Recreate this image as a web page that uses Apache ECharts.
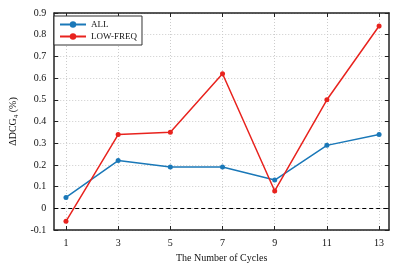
<!DOCTYPE html>
<html><head><meta charset="utf-8">
<script src="https://cdn.jsdelivr.net/npm/echarts@6/dist/echarts.min.js"></script>
<style>html,body{margin:0;padding:0;background:#fff}#c{width:407px;height:271px}</style>
</head><body><div id="c"></div>
<script>
const cycles = [1, 3, 5, 7, 9, 11, 13];
const allVals = [0.05, 0.22, 0.19, 0.19, 0.13, 0.29, 0.34];
const lowFreqVals = [-0.06, 0.34, 0.35, 0.62, 0.08, 0.50, 0.84];
const yTicks = [-0.1, 0, 0.1, 0.2, 0.3, 0.4, 0.5, 0.6, 0.7, 0.8, 0.9];
const seriesNames = ['ALL', 'LOW-FREQ'];

const font = 'Liberation Serif';
const chart = echarts.init(document.getElementById('c'), null, {renderer: 'canvas'});
const pairs = v => cycles.map((c, i) => [c, v[i]]);
const frame = {lineStyle: {color: '#222', width: 1.5}};
chart.setOption({
  animation: false,
  backgroundColor: '#fff',
  grid: {left: 49, right: 18, top: 13, bottom: 41, containLabel: false},
  legend: {
    left: 54, top: 16, orient: 'vertical', itemGap: 3, itemWidth: 26, itemHeight: 8,
    padding: [4, 5, 4, 5], borderColor: '#333', borderWidth: 1, backgroundColor: '#fff',
    textStyle: {fontFamily: font, fontSize: 9, color: '#111'},
    data: seriesNames
  },
  xAxis: [{
    type: 'value', min: 0.55, max: 13.38,
    name: 'The Number of Cycles', nameLocation: 'middle', nameGap: 22,
    nameTextStyle: {fontFamily: font, fontSize: 10, color: '#111'},
    axisLine: {show: true, onZero: false, ...frame},
    axisTick: {show: true, inside: true, length: 4, customValues: cycles, lineStyle: {color: '#222'}},
    axisLabel: {customValues: cycles, fontFamily: font, fontSize: 10, color: '#111', margin: 8},
    splitLine: {show: true, lineStyle: {color: '#ccc', type: [1, 2], width: 1}}
  }, {
    type: 'value', min: 0.55, max: 13.38, position: 'top',
    axisLine: {show: true, onZero: false, ...frame},
    axisTick: {show: true, inside: true, length: 4, customValues: cycles, lineStyle: {color: '#222'}},
    axisLabel: {show: false}, splitLine: {show: false}
  }],
  yAxis: [{
    type: 'value', min: -0.1, max: 0.9, interval: 0.1,
    name: 'ΔDCG{sub|4} (%)', nameLocation: 'middle', nameGap: 32,
    nameTextStyle: {fontFamily: font, fontSize: 10, color: '#111',
      rich: {sub: {fontFamily: font, fontSize: 7, verticalAlign: 'bottom', padding: [6, 0, 0, 0]}}},
    axisLine: {show: true, onZero: false, ...frame},
    axisTick: {show: true, inside: true, length: 4, lineStyle: {color: '#222'}},
    axisLabel: {fontFamily: font, fontSize: 10, color: '#111', margin: 8,
      formatter: v => { const r = Math.round(v * 10) / 10; return r === 0 ? '0' : String(r); }},
    splitLine: {show: true, lineStyle: {color: '#ccc', type: [1, 2], width: 1}}
  }, {
    type: 'value', min: -0.1, max: 0.9, interval: 0.1, position: 'right',
    axisLine: {show: true, onZero: false, ...frame},
    axisTick: {show: true, inside: true, length: 4, lineStyle: {color: '#222'}},
    axisLabel: {show: false}, splitLine: {show: false}
  }],
  series: [{
    name: seriesNames[0], type: 'line', data: pairs(allVals), color: '#1a78b8',
    symbol: 'circle', symbolSize: 5, lineStyle: {width: 1.5},
    markLine: {silent: true, symbol: 'none', label: {show: false},
      lineStyle: {color: '#000', type: [4, 3], width: 1.2}, data: [{yAxis: 0}]}
  }, {
    name: seriesNames[1], type: 'line', data: pairs(lowFreqVals), color: '#e8231e',
    symbol: 'circle', symbolSize: 5, lineStyle: {width: 1.5}
  }]
});
</script></body></html>
